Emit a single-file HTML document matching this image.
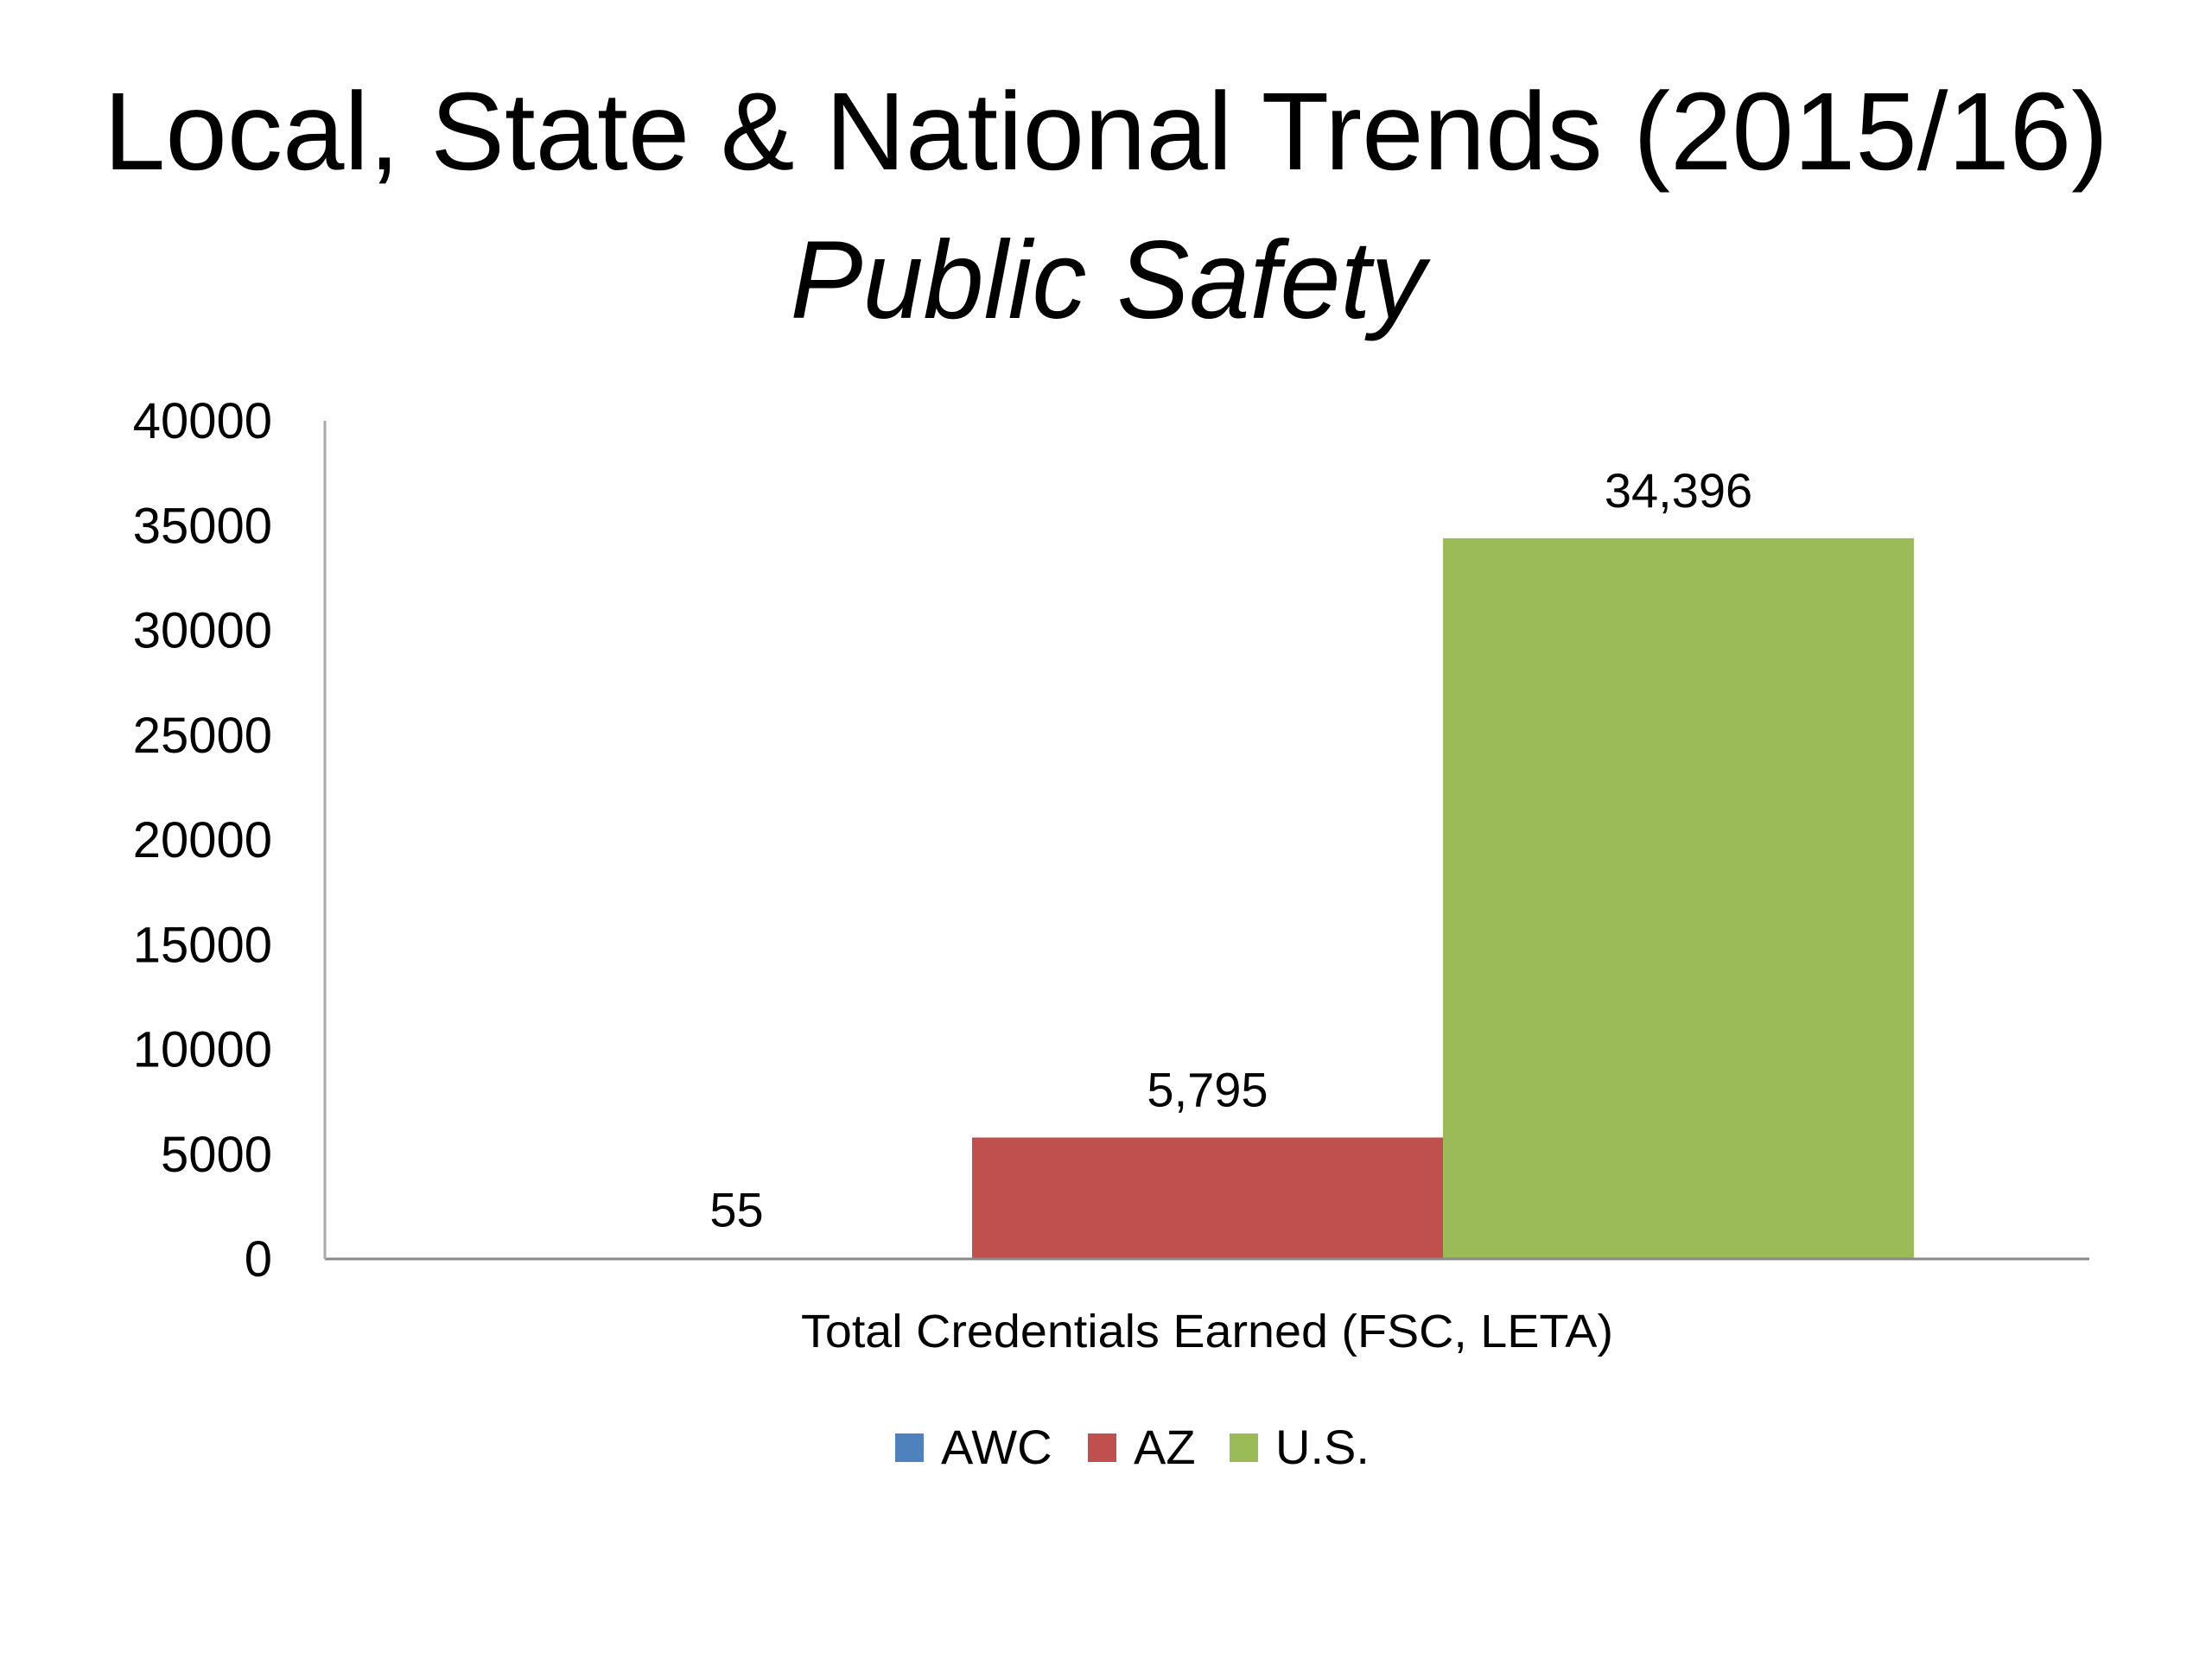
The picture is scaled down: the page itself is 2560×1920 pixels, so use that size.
<!DOCTYPE html>
<html><head><meta charset="utf-8"><style>
html,body{margin:0;padding:0;background:#fff;}
svg{display:block;font-family:"Liberation Sans",sans-serif;}
</style></head><body>
<svg id="chart" width="2560" height="1920" viewBox="0 0 2560 1920" xmlns="http://www.w3.org/2000/svg">
<rect width="2560" height="1920" fill="#fff"/>
<text x="1280" y="196" font-size="128" text-anchor="middle" textLength="2320" lengthAdjust="spacingAndGlyphs" fill="#000">Local, State &amp; National Trends (2015/16)</text>
<text x="1282" y="368" font-size="128" font-style="italic" text-anchor="middle" textLength="735" lengthAdjust="spacingAndGlyphs" fill="#000">Public Safety</text>
<g id="yaxis"></g>
<g id="bars"></g>
<line x1="376" y1="1457" x2="2418" y2="1457" stroke="#888" stroke-width="3"/>
<line x1="376" y1="487" x2="376" y2="1457" stroke="#aaa" stroke-width="3"/>
<text x="1397" y="1559" font-size="54" text-anchor="middle" textLength="940" lengthAdjust="spacingAndGlyphs" fill="#000">Total Credentials Earned (FSC, LETA)</text>
<g id="legend"></g>
</svg>
<script>
const seriesNames = ["AWC", "AZ", "U.S."];
const seriesValues = [55, 5795, 34396];
const valueLabels = ["55", "5,795", "34,396"];
const seriesColors = ["#4f81bd", "#c0504d", "#9bbb59"];
const yTicks = [0, 5000, 10000, 15000, 20000, 25000, 30000, 35000, 40000];

const NS = "http://www.w3.org/2000/svg";
const y0 = 1457, y1 = 487, yMax = 40000;
const yScale = v => y0 - (v / yMax) * (y0 - y1);
const barStart = 580, barW = 545;
const xScale = i => barStart + i * barW;

const yaxis = document.getElementById('yaxis');
yTicks.forEach(t => {
  const el = document.createElementNS(NS, 'text');
  
  
  el.setAttribute('x', 315);
  el.setAttribute('y', yScale(t) + 20);
  el.setAttribute('font-size', '58');
  el.setAttribute('text-anchor', 'end');
  el.textContent = String(t);
  yaxis.appendChild(el);
});

const bars = document.getElementById('bars');
seriesValues.forEach((v, i) => {
  const r = document.createElementNS(NS, 'rect');
  
  
  r.setAttribute('x', xScale(i));
  r.setAttribute('y', yScale(v));
  r.setAttribute('width', barW);
  r.setAttribute('height', y0 - yScale(v));
  r.setAttribute('fill', seriesColors[i]);
  bars.appendChild(r);
  const lbl = document.createElementNS(NS, 'text');
  
  
  lbl.setAttribute('x', xScale(i) + barW / 2);
  lbl.setAttribute('y', yScale(v) - 36);
  lbl.setAttribute('font-size', '56');
  lbl.setAttribute('text-anchor', 'middle');
  lbl.textContent = valueLabels[i];
  bars.appendChild(lbl);
});

const legend = document.getElementById('legend');
const legendX = [1036, 1259, 1423];
seriesNames.forEach((n, i) => {
  const sq = document.createElementNS(NS, 'rect');
  
  
  sq.setAttribute('x', legendX[i]);
  sq.setAttribute('y', 1659);
  sq.setAttribute('width', 33);
  sq.setAttribute('height', 33);
  sq.setAttribute('fill', seriesColors[i]);
  legend.appendChild(sq);
  const t = document.createElementNS(NS, 'text');
  
  
  t.setAttribute('x', legendX[i] + 53);
  t.setAttribute('y', 1694);
  t.setAttribute('font-size', '56');
  t.textContent = n;
  legend.appendChild(t);
});
</script>
</body></html>
